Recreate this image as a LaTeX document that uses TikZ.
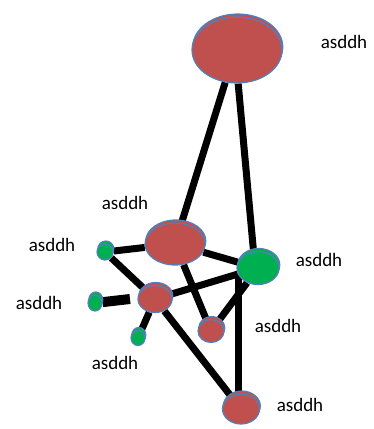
\documentclass[tikz,border=0pt]{standalone}
\usepackage{fontspec}
\setmainfont{Carlito}
\usetikzlibrary{shapes.geometric,backgrounds}
\definecolor{diskred}{RGB}{192,80,77}
\definecolor{diskgreen}{RGB}{0,176,80}
\definecolor{rimblue}{RGB}{79,129,189}
\tikzset{
  disk/.style={ellipse, draw=rimblue, line width=1.2pt, inner sep=0pt},
  link/.style={line width=7pt, black},
  lbl/.style={font=\fontsize{19}{21}\selectfont, inner sep=0pt}
}
% \diskat{name}{x}{y}{rx}{ry}{fill}: a flat disk drawn as two stacked ellipses
\newcommand{\diskat}[6]{%
  \node[disk, fill=#6, minimum width=#4*2pt, minimum height=#5*2pt] at (#2+0.8,#3-3) {};
  \node[disk, fill=#6, minimum width=#4*2pt, minimum height=#5*2pt] (#1) at (#2,#3) {};
}
\begin{document}
\begin{tikzpicture}[x=1pt,y=-1pt]
\useasboundingbox (0,0) rectangle (373,429);
% disks
\diskat{top}{237}{50}{45}{33}{diskred}
\diskat{a}{175}{244}{30}{21}{diskred}
\diskat{g1}{105}{252}{8}{8}{diskgreen}
\diskat{g2}{95}{303}{7}{8}{diskgreen}
\diskat{g3}{138}{338}{7}{7.5}{diskgreen}
\diskat{b}{155}{299}{17}{13.5}{diskred}
\diskat{c}{258}{268}{21}{16.5}{diskgreen}
\diskat{d}{211}{331}{13}{11.5}{diskred}
\diskat{e}{241}{409}{18.5}{15}{diskred}
\coordinate (g2end) at (130,299);
% links behind the disks
\begin{scope}[on background layer]
  \draw[link] (top.250) -- (a);
  \draw[link] (top.272) -- (c.105);
  \draw[link] (g1) -- (a);
  \draw[link] (a) -- (c);
  \draw[link] (g1) -- (b);
  \draw[line width=10pt] (g2) -- (g2end);
  \draw[link] (g3) -- (b);
  \draw[link] (b) -- (c);
  \draw[link] (a) -- (d);
  \draw[link] (c) -- (d);
  \draw[link] (b) -- (e);
  \draw[link] (c.200) -- (c.200 |- e.north);
\end{scope}
% labels
\node[lbl] (ltop) at (344,42) {asddh};
\node[lbl] (la) at (125,203) {asddh};
\node[lbl] (lg1) at (52,245) {asddh};
\node[lbl] (lg2) at (39,303) {asddh};
\node[lbl] (lg3) at (115,363) {asddh};
\node[lbl] (lc) at (319,260) {asddh};
\node[lbl] (ld) at (278,326) {asddh};
\node[lbl] (le) at (300,405) {asddh};
\end{tikzpicture}
\end{document}
